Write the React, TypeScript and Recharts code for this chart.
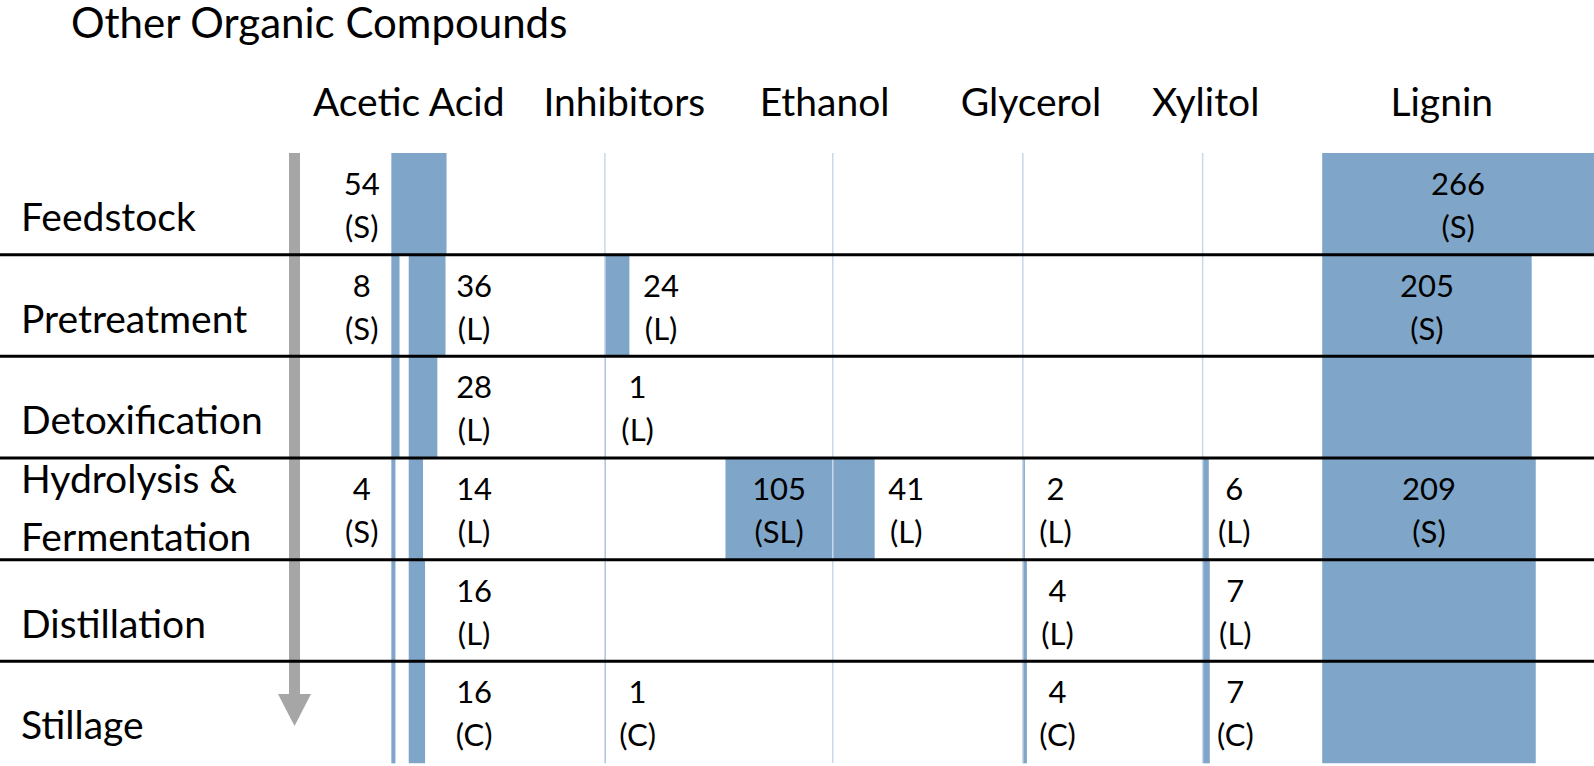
import { Bar, ComposedChart, LabelList, ReferenceLine, XAxis, YAxis } from "recharts";

// process stages (rows) and compounds (columns)
const stages = [
  "Feedstock",
  "Pretreatment",
  "Detoxification",
  "Hydrolysis & Fermentation",
  "Distillation",
  "Stillage",
];
const compounds = ["Acetic Acid", "Inhibitors", "Ethanol", "Glycerol", "Xylitol", "Lignin"];

// flows per stage, null = no flow; tags: S solid, L liquid, SL slurry, C condensed stillage
const aceticSolid = [54, 8, 8, 4, 4, 4];
const aceticSolidTag = ["S", "S", null, "S", null, null];
const aceticLiquid = [null, 36, 28, 14, 16, 16];
const aceticLiquidTag = [null, "L", "L", "L", "L", "C"];
const inhibitors = [0, 24, 1, 1, 1, 1];
const inhibitorsTag = ["S", "L", "L", null, null, "C"];
const ethanolSlurry = [null, null, null, 105, null, null];
const ethanolSlurryTag = [null, null, null, "SL", null, null];
const ethanol = [0, null, null, 41, null, 0];
const ethanolTag = ["S", null, null, "L", null, "C"];
const glycerol = [0, null, null, 2, 4, 4];
const glycerolTag = ["S", null, null, "L", "L", "C"];
const xylitol = [0, null, null, 6, 7, 7];
const xylitolTag = ["S", null, null, "L", "L", "C"];
const lignin = [266, 205, 205, 209, 209, 209];
const ligninTag = ["S", "S", null, "S", null, null];

const CHART_W = 1594;
const CHART_H = 766;
const X_MAX = 1560; // x domain in flow units
const K = CHART_W / X_MAX; // px per unit
const BLUE = "#7fa6c8";
const ZERO_LINE = "#c9d8ea";
const FONT = "Lato, 'Open Sans', sans-serif";

// where each band sits on the x axis, and how its label is placed
const bands = [
  { key: "aceticS", values: aceticSolid, tags: aceticSolidTag, base: 383, dir: 1, label: "auto", gapL: 29, gapR: 0 },
  { key: "aceticL", values: aceticLiquid, tags: aceticLiquidTag, base: 400, dir: 1, label: "fixed", gapL: 0, gapR: 64 },
  { key: "inhib", values: inhibitors, tags: inhibitorsTag, base: 592, dir: 1, label: "auto", gapL: 29, gapR: 31 },
  { key: "ethSL", values: ethanolSlurry, tags: ethanolSlurryTag, base: 815, dir: -1, label: "inside", gapL: 0, gapR: 0 },
  { key: "eth", values: ethanol, tags: ethanolTag, base: 815, dir: 1, label: "auto", gapL: 33, gapR: 31 },
  { key: "gly", values: glycerol, tags: glycerolTag, base: 1001, dir: 1, label: "auto", gapL: 32, gapR: 30 },
  { key: "xyl", values: xylitol, tags: xylitolTag, base: 1177, dir: 1, label: "auto", gapL: 37, gapR: 25 },
  { key: "lig", values: lignin, tags: ligninTag, base: 1294, dir: 1, label: "inside", gapL: 0, gapR: 0 },
];
const zeroLines = [592, 815, 1001, 1177];
const headerX = [400, 611, 807, 1009, 1180, 1411];

const data = stages.map((row, i) => {
  const d: any = { row };
  bands.forEach((b) => {
    const v = b.values[i];
    const w = v == null ? 0 : v;
    d[b.key] = b.dir > 0 ? [b.base, b.base + w] : [b.base - w, b.base];
    d[b.key + "Label"] = b.tags[i] ? `${v}|${b.tags[i]}` : null;
  });
  return d;
});

const makeLabel = (band: any) => (props: any) => {
  const { value } = props;
  if (value == null) return null;
  const vb = props.viewBox ?? props;
  const { x, y, width, height } = vb;
  const [num, tag] = String(value).split("|");
  let cx;
  if (band.label === "inside") cx = x + width / 2;
  else if (band.label === "fixed") cx = x + band.gapR * K;
  else if (tag === "S") cx = x - band.gapL * K;
  else cx = x + width + band.gapR * K;
  const cy = y + height / 2;
  return (
    <text textAnchor="middle" fontFamily={FONT} fontSize={31} fill="#000">
      <tspan x={cx} y={cy - 9}>{num}</tspan>
      <tspan x={cx} y={cy + 34}>({tag})</tspan>
    </text>
  );
};

const HeaderTick = (props: any) => {
  const { x, payload } = props;
  const name = compounds[headerX.indexOf(payload.value)];
  return (
    <text x={x} y={116} textAnchor="middle" fontFamily={FONT} fontSize={39} fill="#000">
      {name}
    </text>
  );
};

const RowTick = (props: any) => {
  const { y, payload } = props;
  const text: string = payload.value;
  const amp = text.indexOf("& ");
  if (amp >= 0) {
    return (
      <text fontFamily={FONT} fontSize={39} fill="#000">
        <tspan x={21} y={y - 16}>{text.slice(0, amp + 1)}</tspan>
        <tspan x={21} y={y + 42}>{text.slice(amp + 2)}</tspan>
      </text>
    );
  }
  return (
    <text x={21} y={y + 27} fontFamily={FONT} fontSize={39} fill="#000">
      {text}
    </text>
  );
};

const App = () => {
  return (
    <div style={{ position: "fixed", left: 0, top: 0, width: CHART_W, height: CHART_H, overflow: "hidden", background: "#fff" }}>
      <svg width={CHART_W} height={CHART_H} style={{ position: "absolute", left: 0, top: 0 }}>
        <text x={71} y={38} fontFamily={FONT} fontSize={42} fill="#000">
          Other Organic Compounds
        </text>
        {/* stage direction arrow */}
        <rect x={289} y={153} width={11} height={541} fill="#a6a6a6" />
        <polygon points="278,694 311,694 294.5,726" fill="#a6a6a6" />
      </svg>
      <div style={{ position: "absolute", left: 0, top: 0 }}>
        <ComposedChart
          width={CHART_W}
          height={CHART_H}
          layout="vertical"
          data={data}
          margin={{ top: 152, right: 0, bottom: 3, left: -1 }}
          barCategoryGap={0}
          barGap={0}
        >
          <XAxis
            type="number"
            orientation="top"
            domain={[0, X_MAX]}
            allowDataOverflow
            height={1}
            axisLine={false}
            tickLine={false}
            ticks={headerX}
            interval={0}
            tick={(p: any) => <HeaderTick {...p} />}
          />
          <YAxis
            yAxisId={0}
            type="category"
            dataKey="row"
            width={1}
            axisLine={false}
            tickLine={false}
            interval={0}
            tick={(p: any) => <RowTick {...p} />}
          />
          {bands.slice(1).map((b) => (
            <YAxis key={b.key} yAxisId={b.key} type="category" dataKey="row" hide />
          ))}
          {zeroLines.map((x) => (
            <ReferenceLine key={x} x={x} stroke={ZERO_LINE} strokeWidth={1.5} />
          ))}
          {bands.map((b, i) => (
            <Bar
              key={b.key}
              dataKey={b.key}
              yAxisId={i === 0 ? 0 : b.key}
              fill={BLUE}
              isAnimationActive={false}
            >
              <LabelList dataKey={b.key + "Label"} content={makeLabel(b)} />
            </Bar>
          ))}
          {stages.slice(1).map((s) => (
            <ReferenceLine key={s} yAxisId={0} y={s} position="start" stroke="#000" strokeWidth={3} />
          ))}
        </ComposedChart>
      </div>
    </div>
  );
};

export default App;
